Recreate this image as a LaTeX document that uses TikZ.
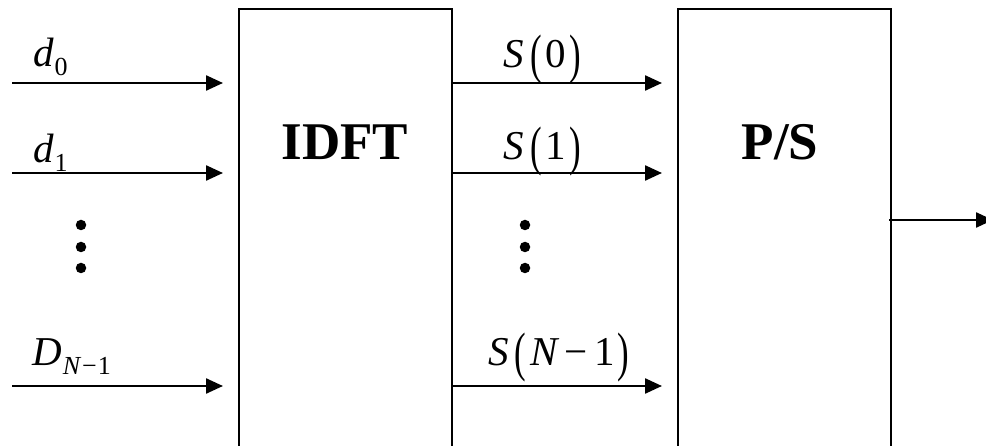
\documentclass[tikz,border=0pt]{standalone}
\usepackage{fontspec}
\setmainfont{Liberation Serif}
\usepackage{graphicx}
\usetikzlibrary{arrows.meta}
\newcommand\mainsz{\fontsize{41}{41}\selectfont}
\newcommand\subsz{\fontsize{26}{26}\selectfont}
\newcommand\lpar{\raisebox{-5pt}{\scalebox{0.85}[1.32]{\upshape(}}}
\newcommand\rpar{\raisebox{-5pt}{\scalebox{0.85}[1.32]{\upshape)}}}
\newcommand\subsc[1]{\raisebox{-9pt}{\subsz #1}}
\begin{document}
\begin{tikzpicture}[x=1pt,y=-1pt,
  blk/.style={draw,line width=2pt,minimum width=213pt,minimum height=470pt,inner sep=0pt,anchor=north west},
  sig/.style={line width=2.4pt,-{Triangle[length=17pt,width=15pt]}},
  lbl/.style={anchor=base west,inner sep=0pt,font=\mainsz},
  title/.style={anchor=base,inner sep=0pt,font=\fontsize{53}{53}\selectfont\bfseries},
  vdot/.style={circle,fill,inner sep=0pt,minimum size=10.5pt}]
\useasboundingbox (0,0) rectangle (986,446);
\clip (0,0) rectangle (986,446);
% blocks
\node[blk] (idft) at (238,8) {};
\node[blk] (ps) at (677,8) {};
\node[title] (idftt) at (345,160) {IDFT};
\node[title] (pst) at (780,160) {P/S};
% input ends
\coordinate (i0) at (12,83);
\coordinate (i1) at (12,173);
\coordinate (i2) at (12,386);
\coordinate (o0) at (223,83);
\coordinate (o1) at (223,173);
\coordinate (o2) at (223,386);
\draw[sig] (i0) -- (o0);
\draw[sig] (i1) -- (o1);
\draw[sig] (i2) -- (o2);
% S arrows
\coordinate (s0) at (451,83);
\coordinate (s1) at (451,173);
\coordinate (s2) at (451,386);
\coordinate (t0) at (662,83);
\coordinate (t1) at (662,173);
\coordinate (t2) at (662,386);
\draw[sig] (s0) -- (t0);
\draw[sig] (s1) -- (t1);
\draw[sig] (s2) -- (t2);
% output
\coordinate (po) at (889,220);
\coordinate (out) at (993,220);
\draw[sig] (po) -- (out);
% labels
\node[lbl] (ld0) at (33,67) {\itshape d\kern1pt\subsc{\upshape 0}};
\node[lbl] (ld1) at (33,163) {\itshape d\kern1pt\subsc{\upshape 1}};
\node[lbl] (ldn) at (32,366) {\itshape D\kern1pt\subsc{N\kern2pt\upshape\textminus\kern1pt 1}};
\node[lbl] (ls0) at (503,68) {\itshape S\hspace{7pt}\lpar\hspace{3pt}\upshape 0\hspace{4pt}\rpar};
\node[lbl] (ls1) at (503,160) {\itshape S\hspace{7pt}\lpar\hspace{3pt}\upshape 1\hspace{4pt}\rpar};
\node[lbl] (lsn) at (488,366) {\itshape S\hspace{6pt}\lpar\hspace{4pt}N\hspace{7pt}\upshape\textminus\hspace{7pt}1\hspace{2pt}\rpar};
% dots
\node[vdot] (a1) at (81,225) {};
\node[vdot] (a2) at (81,247) {};
\node[vdot] (a3) at (81,268) {};
\node[vdot] (b1) at (525,225) {};
\node[vdot] (b2) at (525,247) {};
\node[vdot] (b3) at (525,268) {};
\end{tikzpicture}
\end{document}
